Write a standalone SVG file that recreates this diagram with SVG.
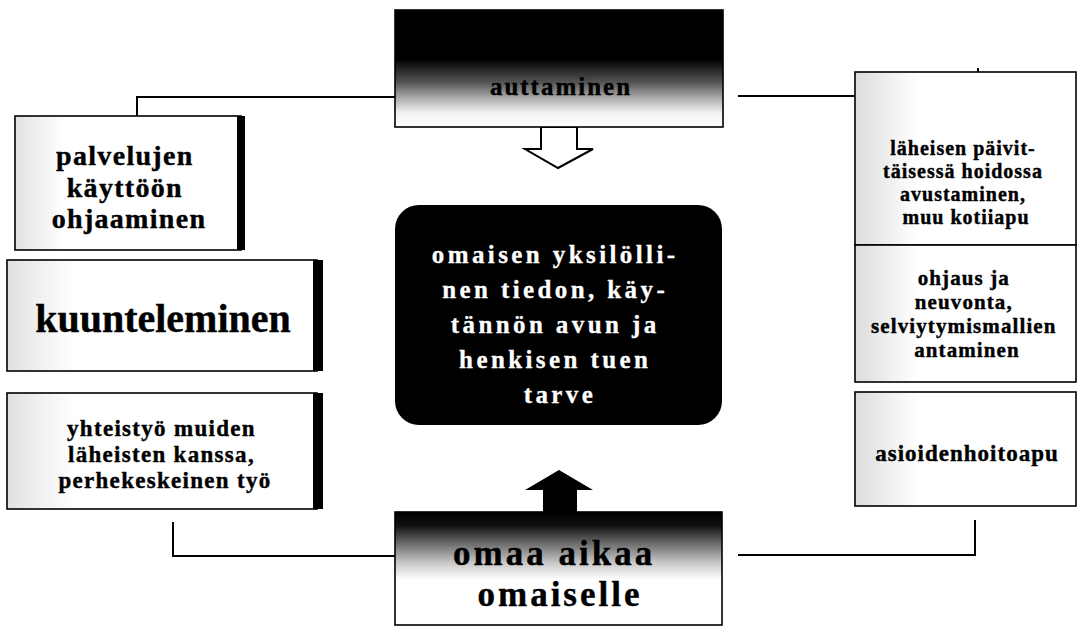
<svg xmlns="http://www.w3.org/2000/svg" width="1078" height="628" viewBox="0 0 1078 628">
  <defs>
    <style>
      .t { font-family: "Liberation Serif", "Times New Roman", serif; font-weight: bold; text-anchor: middle; fill: #000; stroke: #000; stroke-width: 0.4; }
      .w { fill: #fff; stroke: #fff; stroke-width: 0.3; }
      .box { stroke: #000; stroke-width: 1.6; }
      .line { fill: none; stroke: #000; stroke-width: 2; }
      .bar { fill: #000; }
    </style>
    <!-- speckled fade at the left side of the side boxes -->
    <linearGradient id="fadeL" x1="0" y1="0" x2="1" y2="0">
      <stop offset="0" stop-color="#e0e0e0"/>
      <stop offset="0.1" stop-color="#f0f0f0"/>
      <stop offset="0.22" stop-color="#fff"/>
    </linearGradient>
    <linearGradient id="fadeR" x1="0" y1="0" x2="1" y2="0">
      <stop offset="0" stop-color="#dcdcdc"/>
      <stop offset="0.14" stop-color="#eeeeee"/>
      <stop offset="0.28" stop-color="#fff"/>
    </linearGradient>
    <!-- black-to-white vertical shading of the top and bottom boxes -->
    <linearGradient id="shadeTop" x1="0" y1="0" x2="0" y2="1">
      <stop offset="0" stop-color="#000"/>
      <stop offset="0.42" stop-color="#000"/>
      <stop offset="0.62" stop-color="#555"/>
      <stop offset="0.75" stop-color="#aaa"/>
      <stop offset="0.88" stop-color="#f2f2f2"/>
      <stop offset="1" stop-color="#fff"/>
    </linearGradient>
    <linearGradient id="shadeBottom" x1="0" y1="0" x2="0" y2="1">
      <stop offset="0" stop-color="#000"/>
      <stop offset="0.12" stop-color="#111"/>
      <stop offset="0.3" stop-color="#777"/>
      <stop offset="0.45" stop-color="#c8c8c8"/>
      <stop offset="0.6" stop-color="#fff"/>
      <stop offset="1" stop-color="#fff"/>
    </linearGradient>
  </defs>

  <rect width="1078" height="628" fill="#fff"/>

  <!-- connectors -->
  <g id="connectors">
    <polyline class="line" points="137,116 137,97 396,97"/>
    <polyline class="line" points="738,96 978,96 978,68"/>
    <polyline class="line" points="173,522 173,556 396,556"/>
    <polyline class="line" points="738,555 975,555 975,520"/>
    <!-- hollow arrow from the top box to the centre -->
    <polygon points="541,127 541,149 525,149 558,168 593,149 577,149 577,127" fill="#fff" stroke="#000" stroke-width="2"/>
    <!-- solid arrow from the bottom box to the centre -->
    <polygon points="543,513 543,490 525,490 559,470 593,490 577,490 577,513" fill="#000"/>
  </g>

  <!-- top box -->
  <g id="auttaminen">
    <rect class="box" x="395" y="10" width="328" height="117" fill="url(#shadeTop)"/>
    <text class="t" x="561" y="95" font-size="25" letter-spacing="2">auttaminen</text>
  </g>

  <!-- centre -->
  <g id="tarve">
    <rect x="395" y="205" width="327" height="220" rx="24" fill="#000"/>
    <text class="t w" font-size="25" letter-spacing="3.4">
      <tspan x="560" y="263">omaisen yksilölli-</tspan>
      <tspan x="560" y="298">nen tiedon, käy-</tspan>
      <tspan x="560" y="333">tännön avun ja</tspan>
      <tspan x="560" y="368">henkisen tuen</tspan>
      <tspan x="560" y="403">tarve</tspan>
    </text>
  </g>

  <!-- bottom box -->
  <g id="omaa-aikaa">
    <rect class="box" x="395" y="512" width="327" height="113" fill="url(#shadeBottom)"/>
    <text class="t" font-size="35" letter-spacing="3">
      <tspan x="560" y="565">omaa aikaa</tspan>
      <tspan x="560" y="606">omaiselle</tspan>
    </text>
  </g>

  <!-- left column -->
  <g id="palvelujen">
    <rect class="box" x="15" y="116" width="226" height="134" fill="url(#fadeL)"/>
    <rect class="bar" x="237" y="116" width="8" height="134"/>
    <text class="t" font-size="28" letter-spacing="1.3">
      <tspan x="129" y="165">palvelujen</tspan>
      <tspan x="129" y="197">käyttöön</tspan>
      <tspan x="129" y="228">ohjaaminen</tspan>
    </text>
  </g>

  <g id="kuunteleminen">
    <rect class="box" x="7" y="260" width="310" height="111" fill="url(#fadeL)"/>
    <rect class="bar" x="313" y="260" width="10" height="111"/>
    <text class="t" x="163" y="332" font-size="40">kuunteleminen</text>
  </g>

  <g id="yhteistyo">
    <rect class="box" x="7" y="393" width="310" height="116" fill="url(#fadeL)"/>
    <rect class="bar" x="313" y="393" width="10" height="116"/>
    <text class="t" font-size="23" letter-spacing="1.3">
      <tspan x="165" y="436">yhteistyö muiden</tspan>
      <tspan x="165" y="462">läheisten kanssa,</tspan>
      <tspan x="165" y="488">perhekeskeinen työ</tspan>
    </text>
  </g>

  <!-- right column -->
  <g id="laheisen">
    <rect class="box" x="855" y="72" width="221" height="173" fill="url(#fadeR)"/>
    <text class="t" font-size="20" letter-spacing="1">
      <tspan x="966" y="155">läheisen päivit-</tspan>
      <tspan x="966" y="178">täisessä hoidossa</tspan>
      <tspan x="966" y="201">avustaminen,</tspan>
      <tspan x="966" y="224">muu kotiiapu</tspan>
    </text>
  </g>

  <g id="ohjaus">
    <rect class="box" x="855" y="245" width="221" height="137" fill="url(#fadeR)"/>
    <text class="t" font-size="21" letter-spacing="1.1">
      <tspan x="967" y="285">ohjaus ja</tspan>
      <tspan x="967" y="309">neuvonta,</tspan>
      <tspan x="967" y="333">selviytymismallien</tspan>
      <tspan x="967" y="357">antaminen</tspan>
    </text>
  </g>

  <g id="asioidenhoitoapu">
    <rect class="box" x="855" y="392" width="221" height="114" fill="url(#fadeR)"/>
    <text class="t" x="967" y="461" font-size="23" letter-spacing="1">asioidenhoitoapu</text>
  </g>
</svg>
